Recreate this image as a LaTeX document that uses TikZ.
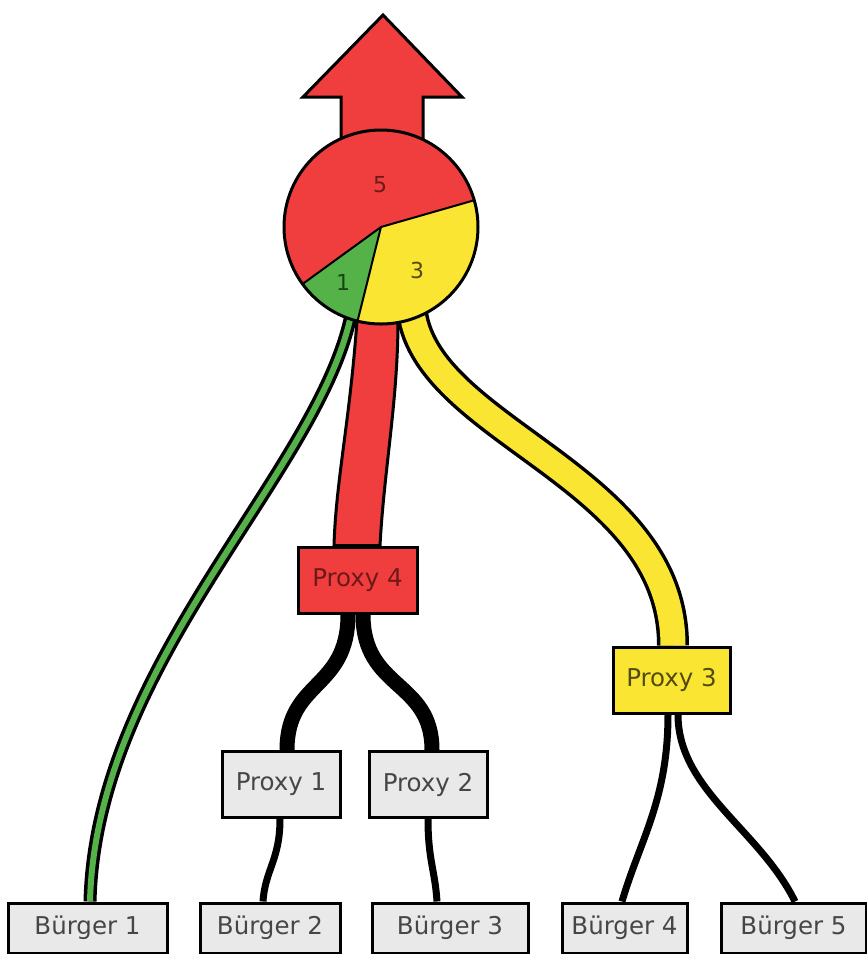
\documentclass[tikz,border=0pt]{standalone}
\usepackage{fontspec}
\setmainfont{DejaVu Sans}
\pgfdeclarelayer{background}
\pgfsetlayers{background,main}
\definecolor{vred}{RGB}{240,62,62}
\definecolor{vyellow}{RGB}{250,230,50}
\definecolor{vgreen}{RGB}{84,178,72}
\definecolor{boxgray}{RGB}{233,233,233}
\definecolor{txtgray}{RGB}{70,70,70}
\definecolor{dred}{RGB}{110,25,25}
\definecolor{dgreen}{RGB}{25,70,25}
\definecolor{dyellow}{RGB}{80,75,15}
\begin{document}
\begin{tikzpicture}[x=1pt,y=-1pt,
  box/.style={draw=black, line width=3pt, fill=boxgray, minimum width=#1, minimum height=66pt, inner sep=0pt, text=txtgray, font=\fontsize{24.5}{28}\selectfont},
  bbox/.style={box=#1, minimum height=50pt},
  thinlink/.style={draw=black, line width=7pt},
  thicklink/.style={draw=black, line width=15pt},
  pielabel/.style={font=\fontsize{22}{26}\selectfont, inner sep=0pt}]
\useasboundingbox (0,0) rectangle (867,954);
\begin{pgfonlayer}{background}
\fill[white] (0,0) rectangle (867,954);
\end{pgfonlayer}

% nodes
\node[box=119, fill=vred, text=dred] (p4) at (357.5,580) {Proxy 4};
\node[box=118] (p1) at (281,784.5) {Proxy 1};
\node[box=118] (p2) at (428,784.5) {Proxy 2};
\node[box=117, fill=vyellow, text=dyellow] (p3) at (671.5,680) {Proxy 3};
\node[bbox=159] (b1) at (87.5,928) {Bürger 1};
\node[bbox=140] (b2) at (270,928) {Bürger 2};
\node[bbox=156] (b3) at (450,928) {Bürger 3};
\node[bbox=125] (b4) at (624.5,928) {Bürger 4};
\node[bbox=145] (b5) at (793.5,928) {Bürger 5};
\node[circle, minimum size=194pt, inner sep=0pt] (pie) at (381,227) {};

% pie
\fill[vred] (pie.center) -- ++(-16:97) arc[start angle=-16, end angle=-216, radius=97] -- cycle;
\fill[vgreen] (pie.center) -- ++(-216:97) arc[start angle=-216, end angle=-256, radius=97] -- cycle;
\fill[vyellow] (pie.center) -- ++(-256:97) arc[start angle=-256, end angle=-376, radius=97] -- cycle;
\draw[black, line width=2pt] (pie.center) -- ++(-16:97) (pie.center) -- ++(-216:97) (pie.center) -- ++(-256:97);
\draw[black, line width=3pt] (pie.center) circle[radius=97];
\node[pielabel, text=dred] (l5) at (380,185) {5};
\node[pielabel, text=dgreen] (l1) at (343,282) {1};
\node[pielabel, text=dyellow] (l3) at (417,270) {3};

\begin{pgfonlayer}{background}
% big arrow
\filldraw[fill=vred, draw=black, line width=3pt, line join=miter]
  (341,160) -- (341,97) -- (303,97) -- (383,15) -- (462,97) -- (423,97) -- (423,160);

% green band
\draw[black, line width=13pt] ([xshift=-29pt,yshift=14pt]pie.south) .. controls (322,470) and (96,660) .. ([xshift=2.5pt]b1.north);
\draw[vgreen, line width=6pt] ([xshift=-29pt,yshift=14pt]pie.south) .. controls (322,470) and (96,660) .. ([xshift=2.5pt]b1.north);

% yellow band
\draw[black, line width=32pt] ([xshift=30pt,yshift=24pt]pie.south) .. controls (412,430) and (673,470) .. ([xshift=1.5pt]p3.north);
\draw[vyellow, line width=25pt] ([xshift=30pt,yshift=24pt]pie.south) .. controls (412,430) and (673,470) .. ([xshift=1.5pt]p3.north);

% red band
\filldraw[fill=vred, draw=black, line width=3pt]
  ([xshift=-24pt,yshift=24pt]pie.south) -- (357,320) .. controls (350,420) and (336,480) .. ([xshift=-23.5pt]p4.north)
  -- ([xshift=22.5pt]p4.north) .. controls (384,470) and (398,400) .. (398,320) -- ([xshift=17pt,yshift=24pt]pie.south);

% black links
\draw[thicklink] ([xshift=-9.5pt]p4.south) .. controls (348,690) and (287,680) .. ([xshift=6pt]p1.north);
\draw[thicklink] ([xshift=5.5pt]p4.south) .. controls (363,690) and (432,680) .. ([xshift=4pt]p2.north);
\draw[thinlink] ([xshift=-1pt]p1.south) .. controls (280,860) and (265,870) .. ([xshift=-7pt]b2.north);
\draw[thinlink] (p2.south) .. controls (428,860) and (435,870) .. ([xshift=-13pt]b3.north);
\draw[thinlink] ([xshift=-3.5pt]p3.south) .. controls (668,800) and (640,840) .. ([xshift=-2.5pt]b4.north);
\draw[thinlink] ([xshift=6.5pt]p3.south) .. controls (678,790) and (760,830) .. ([xshift=1.5pt]b5.north);
\end{pgfonlayer}
\end{tikzpicture}
\end{document}
